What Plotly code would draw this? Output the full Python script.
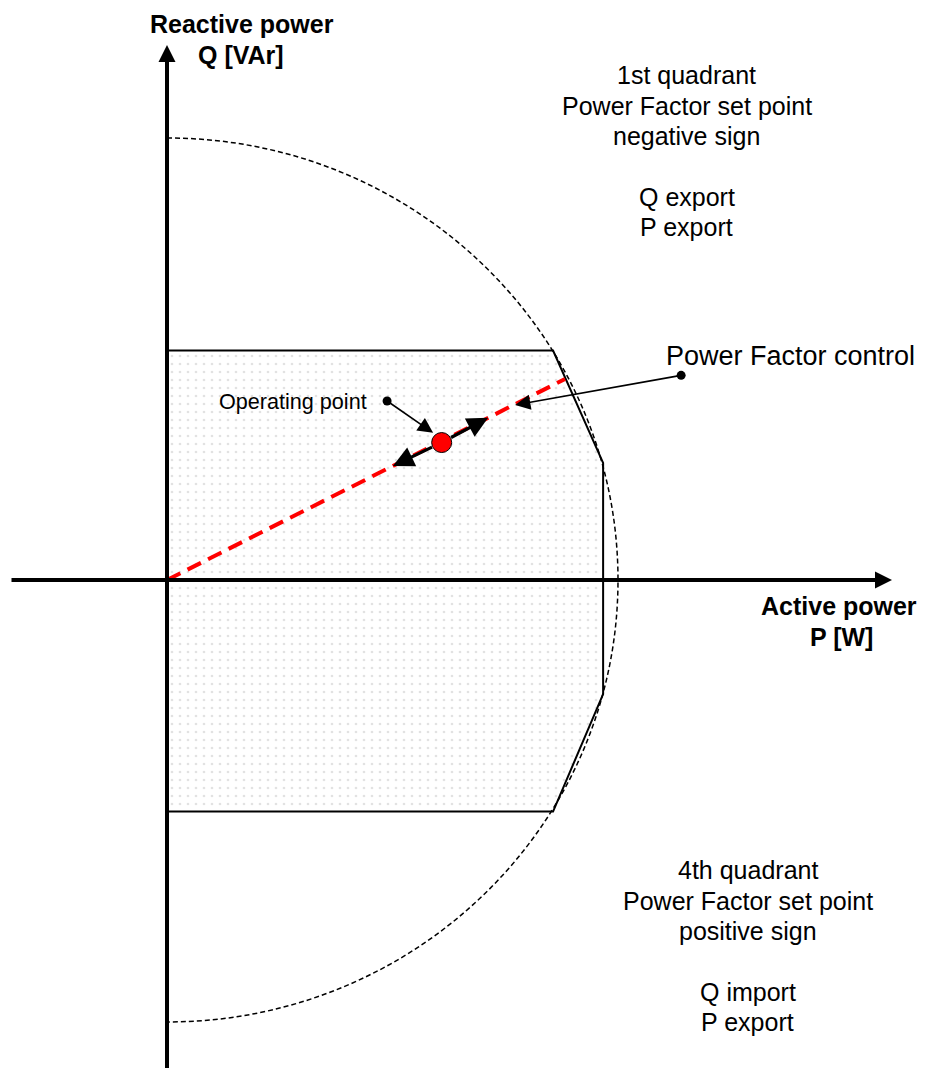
import plotly.graph_objects as go

# ---------------- data (per-unit values) ----------------
S_RATED = 1.0  # rated apparent power circle radius (p.u.)

# Capability polygon (P, Q in p.u.)
cap_p = [0.0, 0.856, 0.967, 0.967, 0.856, 0.0, 0.0]
cap_q = [0.519, 0.519, 0.265, -0.258, -0.524, -0.524, 0.519]

# Power factor control line (from origin to capability limit)
pf_line_p = [0.0, 0.8825]
pf_line_q = [0.0, 0.4548]

# Operating point
op_p = [0.609]
op_q = [0.311]

# Movement arrows along the PF line (tips)
move_tip_p = [0.712, 0.501]
move_tip_q = [0.367, 0.258]

# Callouts
callout_labels = ["Operating point", "Power Factor control"]
callout_tail_p = [0.488, 1.140]
callout_tail_q = [0.405, 0.463]
callout_head_p = [0.590, 0.772]
callout_head_q = [0.333, 0.396]

q1_lines = ["1st quadrant", "Power Factor set point", "negative sign", "Q export", "P export"]
q4_lines = ["4th quadrant", "Power Factor set point", "positive sign", "Q import", "P export"]
y_axis_title = ["Reactive power", "Q [VAr]"]
x_axis_title = ["Active power", "P [W]"]

# ---------------- layout helpers (pixel -> axis units) ----------------
W, H = 928, 1068
OX, OY = 167, 580      # origin pixel
SX, SY = 451, 442      # pixels per p.u.


def X(px):
    return (px - OX) / SX


def Y(py):
    return (OY - py) / SY


FONT = "Arial, Liberation Sans, sans-serif"

fig = go.Figure()

# capability area
fig.add_trace(go.Scatter(
    x=cap_p, y=cap_q, mode="lines", fill="toself",
    fillpattern=dict(shape=".", fgcolor="#c6c6c6", bgcolor="white", size=8, solidity=0.09),
    line=dict(color="black", width=2), hoverinfo="skip", showlegend=False))

# PF line
fig.add_trace(go.Scatter(
    x=pf_line_p, y=pf_line_q, mode="lines",
    line=dict(color="#ff0000", width=4, dash="15px,8px"),
    hoverinfo="skip", showlegend=False))

# callout tail dots
fig.add_trace(go.Scatter(
    x=callout_tail_p, y=callout_tail_q, mode="markers",
    marker=dict(size=9, color="black"), hoverinfo="skip", showlegend=False))

# rated circle (right half) as bezier arcs
R = S_RATED
k = 0.5523 * R
fig.add_shape(type="path", xref="x", yref="y",
              path=f"M 0,{R} C {k},{R} {R},{k} {R},0 C {R},{-k} {k},{-R} 0,{-R}",
              line=dict(color="black", width=1.5, dash="5px,3px"), layer="above")

annotations = []

# axes with arrows
annotations.append(dict(x=X(892), y=0, ax=X(10), ay=0, xref="x", yref="y", axref="x", ayref="y",
                        text="", showarrow=True, arrowhead=2, arrowsize=0.85, arrowwidth=4,
                        arrowcolor="black"))
annotations.append(dict(x=0, y=Y(45), ax=0, ay=Y(H + 5), xref="x", yref="y", axref="x", ayref="y",
                        text="", showarrow=True, arrowhead=2, arrowsize=0.85, arrowwidth=4,
                        arrowcolor="black"))

# movement arrows from operating point
for tp, tq in zip(move_tip_p, move_tip_q):
    annotations.append(dict(x=tp, y=tq, ax=op_p[0], ay=op_q[0], xref="x", yref="y",
                            axref="x", ayref="y", text="", showarrow=True, arrowhead=2,
                            arrowsize=1.3, arrowwidth=3.2, arrowcolor="black", startstandoff=9))

# callout arrows
for tp, tq, hp, hq in zip(callout_tail_p, callout_tail_q, callout_head_p, callout_head_q):
    annotations.append(dict(x=hp, y=hq, ax=tp, ay=tq, xref="x", yref="y", axref="x", ayref="y",
                            text="", showarrow=True, arrowhead=2, arrowsize=1.9,
                            arrowwidth=1.6, arrowcolor="black"))

# callout labels
annotations.append(dict(x=X(293), y=Y(401.5), xref="x", yref="y", text=callout_labels[0],
                        showarrow=False, font=dict(family=FONT, size=21.6, color="black")))
annotations.append(dict(x=X(790), y=Y(355.5), xref="x", yref="y", text=callout_labels[1],
                        showarrow=False, font=dict(family=FONT, size=27, color="black")))

# quadrant texts
for line, py in zip(q1_lines, [75, 105.5, 136, 196.5, 227]):
    annotations.append(dict(x=X(686.5), y=Y(py), xref="x", yref="y", text=line, showarrow=False,
                            font=dict(family=FONT, size=25, color="black")))
for line, py in zip(q4_lines, [870, 900.5, 931, 991.5, 1022]):
    annotations.append(dict(x=X(747.5), y=Y(py), xref="x", yref="y", text=line, showarrow=False,
                            font=dict(family=FONT, size=25, color="black")))

# axis titles
for line, px, py in zip(y_axis_title, [242, 241], [24, 55]):
    annotations.append(dict(x=X(px), y=Y(py), xref="x", yref="y", text=f"<b>{line}</b>",
                            showarrow=False, font=dict(family=FONT, size=25, color="black")))
for line, px, py in zip(x_axis_title, [838.5, 841], [606, 637]):
    annotations.append(dict(x=X(px), y=Y(py), xref="x", yref="y", text=f"<b>{line}</b>",
                            showarrow=False, font=dict(family=FONT, size=25, color="black")))

# operating point (drawn last among traces)
fig.add_trace(go.Scatter(
    x=op_p, y=op_q, mode="markers",
    marker=dict(size=20, color="#ff0000", line=dict(color="black", width=1)),
    hoverinfo="skip", showlegend=False))

fig.update_layout(
    width=W, height=H, autosize=False,
    margin=dict(l=0, r=0, t=0, b=0, pad=0),
    paper_bgcolor="white", plot_bgcolor="white",
    xaxis=dict(range=[X(0), X(W)], visible=False, fixedrange=True),
    yaxis=dict(range=[Y(H), Y(0)], visible=False, fixedrange=True),
    annotations=annotations,
    showlegend=False,
)

fig.write_html("out.html", config={"displayModeBar": False},
               post_script="document.body.style.margin='0';")
